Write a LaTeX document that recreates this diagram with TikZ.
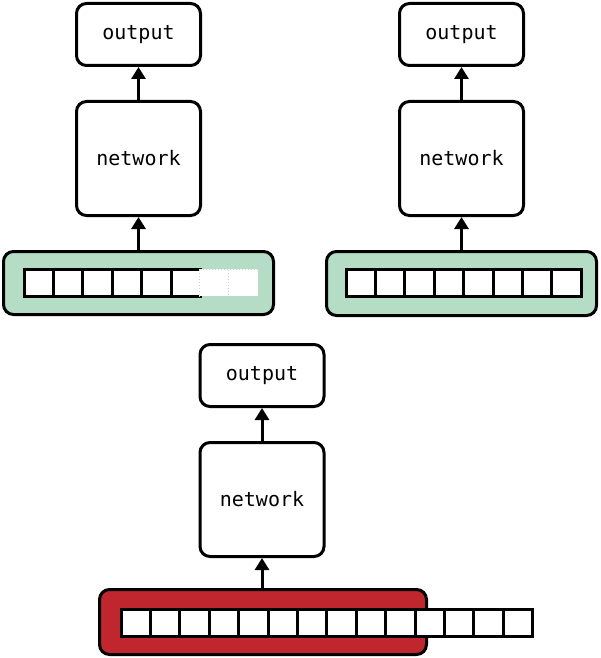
\documentclass[tikz,border=0pt]{standalone}
\usepackage{fontspec}
\setmonofont{DejaVu Sans Mono}
\usetikzlibrary{arrows.meta}
\definecolor{seqgreen}{HTML}{B5DDC6}
\definecolor{seqred}{HTML}{C0262D}
\tikzset{
  box/.style={draw=black, line width=3pt, rounded corners=10pt, fill=white,
    inner sep=0pt, font=\ttfamily\fontsize{20}{22}\selectfont},
  outbox/.style={box, minimum width=124pt, minimum height=62pt},
  netbox/.style={box, minimum width=124pt, minimum height=114pt},
  container/.style={draw=black, line width=3pt, rounded corners=10pt, inner sep=0pt},
  cell/.style={draw=black, line width=3pt, fill=white, inner sep=0pt,
    minimum width=29.4pt, minimum height=27pt, anchor=west},
  ghostcell/.style={draw=black!18, line width=1pt, dotted, fill=white, inner sep=0pt,
    minimum width=29.4pt, minimum height=27pt, anchor=west},
  arr/.style={line width=3pt, -{Triangle[width=14pt,length=12pt]}}
}
\begin{document}
\begin{tikzpicture}[x=1pt,y=-1pt]
\useasboundingbox (0,0) rectangle (600,658);
% ---------- top left ----------
\node[outbox] (out1) at (138.5,34.5) {output};
\node[netbox] (net1) at (138.5,158.5) {network};
\node[container, fill=seqgreen, minimum width=270pt, minimum height=63pt] (cont1) at (138.5,283) {};
\foreach \i in {1,...,6} {
  \node[cell] (a\i) at ({22.5+29.4*(\i-1)},282.5) {};
}
\foreach \i in {7,8} {
  \node[ghostcell] (a\i) at ({22.5+29.4*(\i-1)},282.5) {};
}
\draw[arr] (cont1.north) -- (net1.south);
\draw[arr] (net1.north) -- (out1.south);
% ---------- top right ----------
\node[outbox] (out2) at (461.5,34.5) {output};
\node[netbox] (net2) at (461.5,158.5) {network};
\node[container, fill=seqgreen, minimum width=270pt, minimum height=64pt] (cont2) at (461.5,283.5) {};
\foreach \i in {1,...,8} {
  \node[cell] (b\i) at ({344.5+29.4*(\i-1)},283) {};
}
\draw[arr] (cont2.north) -- (net2.south);
\draw[arr] (net2.north) -- (out2.south);
% ---------- bottom ----------
\node[outbox] (out3) at (262,375.5) {output};
\node[netbox] (net3) at (262,499.5) {network};
\node[container, fill=seqred, minimum width=327pt, minimum height=65pt] (cont3) at (263,622) {};
\foreach \i in {1,...,14} {
  \node[cell] (c\i) at ({119.5+29.4*(\i-1)},623) {};
}
\draw[arr] (cont3.north -| net3.south) -- (net3.south);
\draw[arr] (net3.north) -- (out3.south);
\end{tikzpicture}
\end{document}
